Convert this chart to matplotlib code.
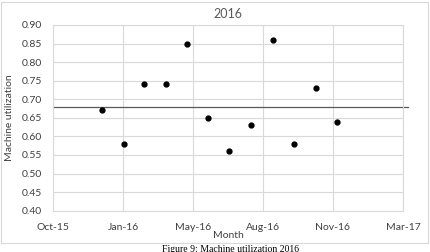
import datetime as dt
import matplotlib
matplotlib.use("Agg")
import matplotlib.pyplot as plt
import matplotlib.dates as mdates
from matplotlib.patches import Rectangle

# Data
months = [dt.date(2016, m, 1) for m in range(1, 13)]
utilization = [0.67, 0.58, 0.74, 0.74, 0.85, 0.65, 0.56, 0.63, 0.86, 0.58, 0.73, 0.64]
reference_level = 0.678
x_start = dt.date(2015, 10, 23)
x_step_days = 100
n_x_ticks = 6
y_ticks = [0.40, 0.45, 0.50, 0.55, 0.60, 0.65, 0.70, 0.75, 0.80, 0.85, 0.90]
title = "2016"
x_label = "Month"
y_label = "Machine utilization"
caption = "Figure 9: Machine utilization 2016"

plt.rcParams['font.family'] = ['Lato', 'DejaVu Sans']

fig = plt.figure(figsize=(4.31, 2.52), dpi=100)
ax = fig.add_axes([53/431, 1-210.7/252, 350/431, 185.7/252])

grid_c = "#d9d9d9"
text_c = "#404040"

x_ticks = [x_start + dt.timedelta(days=x_step_days*k) for k in range(n_x_ticks)]
ax.set_xlim(x_ticks[0], x_ticks[-1])
ax.set_ylim(y_ticks[0], y_ticks[-1])
ax.set_xticks(x_ticks)
ax.xaxis.set_major_formatter(mdates.DateFormatter('%b-%y'))
ax.set_yticks(y_ticks)
ax.set_yticklabels([f"{v:.2f}" for v in y_ticks])

ax.grid(True, color=grid_c, linewidth=0.8)
ax.set_axisbelow(True)
for s in ax.spines.values():
    s.set_color(grid_c)
    s.set_linewidth(0.8)
ax.tick_params(length=0, labelsize=7.5, labelcolor=text_c, pad=8)
ax.tick_params(axis='x', pad=9)

ax.plot(months, utilization, linestyle='none', marker='o', markersize=3.5,
        color='black', zorder=3)
ax.axhline(reference_level, xmin=0, xmax=1.013, color="#595959", linewidth=0.9,
           clip_on=False, zorder=2)

fig.text(228/431, 1-14/252, title, ha='center', va='center', fontsize=9, color="#595959")
fig.text(228/431, 1-236/252, x_label, ha='center', va='center', fontsize=7.5, color=text_c)
fig.text(10/431, 1-118/252, y_label, ha='center', va='center', rotation=90,
         fontsize=7.5, color=text_c)

fig.patches.append(Rectangle((1/431, 1-243/252), 427/431, 241/252, transform=fig.transFigure,
                             fill=False, edgecolor=grid_c, linewidth=0.8))

fig.text(231/431, 1-244.5/252, caption, ha='center', va='top', fontsize=7,
         family=['Liberation Serif'], color='black')

fig.savefig("out.png", dpi=100, facecolor='white')
